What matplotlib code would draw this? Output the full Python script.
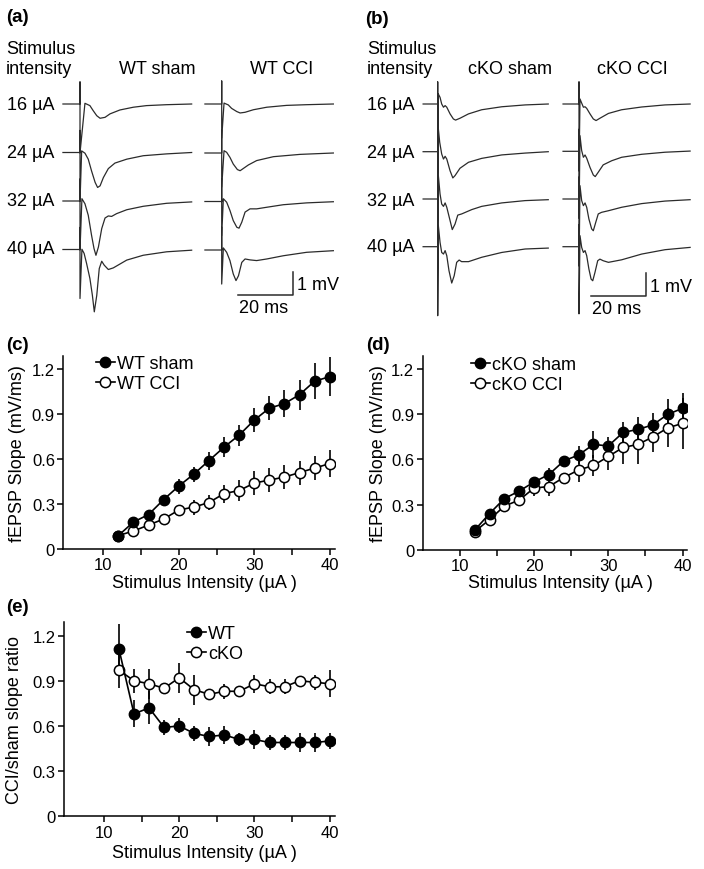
import matplotlib
matplotlib.use('Agg')
import matplotlib.pyplot as plt
from matplotlib.lines import Line2D
import numpy as np

plt.rcParams['font.family'] = ['Liberation Sans', 'DejaVu Sans']

# ---------------- data: input-output curves ----------------
INTENSITY = [12, 14, 16, 18, 20, 22, 24, 26, 28, 30, 32, 34, 36, 38, 40]

WT_SHAM = [0.09, 0.18, 0.23, 0.33, 0.42, 0.50, 0.59, 0.68, 0.76, 0.86, 0.94, 0.97, 1.03, 1.12, 1.15]
WT_SHAM_ERR = [0.01, 0.03, 0.03, 0.03, 0.05, 0.05, 0.06, 0.065, 0.07, 0.08, 0.08, 0.09, 0.10, 0.12, 0.13]
WT_CCI = [0.09, 0.12, 0.16, 0.20, 0.26, 0.28, 0.31, 0.37, 0.39, 0.44, 0.46, 0.48, 0.51, 0.54, 0.57]
WT_CCI_ERR = [0.01, 0.02, 0.02, 0.03, 0.03, 0.05, 0.05, 0.06, 0.07, 0.08, 0.08, 0.08, 0.08, 0.08, 0.09]

CKO_SHAM = [0.13, 0.24, 0.34, 0.39, 0.45, 0.50, 0.59, 0.63, 0.70, 0.69, 0.78, 0.80, 0.83, 0.90, 0.94]
CKO_SHAM_ERR = [0.01, 0.02, 0.03, 0.03, 0.03, 0.04, 0.03, 0.06, 0.09, 0.06, 0.07, 0.08, 0.08, 0.10, 0.10]
CKO_CCI = [0.12, 0.20, 0.29, 0.33, 0.41, 0.42, 0.48, 0.53, 0.56, 0.62, 0.68, 0.70, 0.75, 0.81, 0.84]
CKO_CCI_ERR = [0.01, 0.02, 0.04, 0.03, 0.05, 0.06, 0.03, 0.08, 0.07, 0.09, 0.11, 0.13, 0.10, 0.13, 0.17]

RATIO_WT = [1.11, 0.68, 0.72, 0.59, 0.60, 0.55, 0.53, 0.54, 0.51, 0.51, 0.49, 0.49, 0.49, 0.49, 0.50]
RATIO_WT_ERR = [0.17, 0.09, 0.11, 0.05, 0.05, 0.05, 0.06, 0.06, 0.04, 0.06, 0.05, 0.05, 0.06, 0.06, 0.05]
RATIO_CKO = [0.97, 0.90, 0.88, 0.85, 0.92, 0.84, 0.81, 0.83, 0.83, 0.88, 0.86, 0.86, 0.90, 0.89, 0.88]
RATIO_CKO_ERR = [0.12, 0.08, 0.10, 0.03, 0.10, 0.10, 0.03, 0.05, 0.02, 0.06, 0.05, 0.05, 0.02, 0.05, 0.09]

X_TICKS = [10, 15, 20, 25, 30, 35, 40]
X_TICK_LABELS = ['10', '', '20', '', '30', '', '40']
Y_TICKS = [0, 0.3, 0.6, 0.9, 1.2]
Y_TICK_LABELS = ['0', '0.3', '0.6', '0.9', '1.2']

# ---------------- data: example fEPSP traces (ms after stimulus, mV) ----------------
TRACE_LABELS = ['16 µA', '24 µA', '32 µA', '40 µA']

WT_SHAM_T = [
    [1.8, 3.6, 4.8, 6.1, 7.3, 9.1, 10.9, 14.5, 19.4, 24.2, 31.5, 40.6],
    [0.6, 1.8, 3.0, 4.2, 5.5, 6.4, 7.3, 8.5, 10.3, 12.7, 17.0, 23.0, 31.5, 40.6],
    [0.7, 1.8, 3.0, 4.2, 5.1, 5.8, 6.7, 7.9, 9.1, 10.3, 11.5, 13.3, 17.0, 23.0, 31.5, 40.6],
    [0.7, 1.5, 2.4, 3.6, 4.5, 5.2, 6.1, 7.0, 7.9, 8.8, 10.3, 12.1, 17.0, 23.0, 31.5, 40.6],
]
WT_SHAM_V = [
    [0.03, -0.07, -0.29, -0.51, -0.62, -0.58, -0.43, -0.26, -0.14, -0.07, -0.03, 0.0],
    [0.07, -0.03, -0.29, -0.80, -1.30, -1.52, -1.45, -1.09, -0.70, -0.46, -0.29, -0.14, -0.06, 0.0],
    [0.10, -0.12, -0.62, -1.49, -2.07, -2.36, -2.00, -1.20, -0.74, -0.65, -0.67, -0.55, -0.38, -0.23, -0.10, -0.04],
    [0.01, -0.17, -0.61, -1.26, -1.99, -2.71, -1.99, -0.83, -0.51, -0.68, -0.87, -0.80, -0.46, -0.25, -0.10, -0.03],
]
WT_CCI_T = [
    [0.85, 2.4, 3.6, 5.5, 6.7, 8.5, 11.5, 16.4, 23.6, 30.9, 40.6],
    [0.85, 1.8, 3.0, 4.2, 5.7, 6.7, 7.9, 9.7, 12.7, 18.8, 28.5, 40.6],
    [0.6, 1.8, 3.0, 4.2, 5.5, 6.3, 7.3, 8.5, 10.3, 12.7, 16.4, 22.4, 30.9, 40.6],
    [0.6, 1.8, 3.0, 4.2, 5.2, 6.1, 7.3, 8.5, 10.3, 12.7, 16.4, 22.4, 30.9, 40.6],
]
WT_CCI_V = [
    [0.04, -0.04, -0.19, -0.33, -0.39, -0.36, -0.25, -0.14, -0.06, -0.03, 0.0],
    [0.10, 0.03, -0.19, -0.48, -0.72, -0.77, -0.67, -0.52, -0.33, -0.16, -0.06, 0.0],
    [0.12, -0.03, -0.39, -0.83, -1.12, -1.16, -0.90, -0.46, -0.32, -0.32, -0.25, -0.14, -0.06, -0.01],
    [0.09, -0.10, -0.46, -1.04, -1.33, -1.12, -0.54, -0.39, -0.43, -0.46, -0.39, -0.25, -0.10, -0.03],
]
CKO_SHAM_T = [
    [0.24, 0.85, 1.45, 2.1, 2.7, 3.3, 4.5, 5.7, 6.5, 8.1, 11.2, 16.0, 23.3, 31.8, 40.2],
    [0.24, 0.73, 1.45, 2.1, 2.7, 3.3, 4.5, 5.5, 6.3, 8.1, 11.2, 16.0, 23.3, 31.8, 40.2],
    [0.24, 0.85, 1.45, 2.1, 2.7, 3.3, 4.5, 5.3, 6.3, 7.3, 8.7, 12.4, 16.0, 23.3, 31.8, 40.2],
    [0.24, 0.85, 1.45, 2.1, 2.7, 3.3, 4.1, 5.1, 6.0, 6.9, 7.8, 8.7, 11.2, 16.0, 23.3, 31.8, 40.2],
]
CKO_SHAM_V = [
    [0.43, 0.29, 0.0, -0.14, -0.07, -0.14, -0.43, -0.65, -0.70, -0.62, -0.43, -0.25, -0.12, -0.04, 0.0],
    [0.99, 0.41, -0.10, -0.32, -0.20, -0.32, -0.83, -1.14, -1.04, -0.72, -0.46, -0.29, -0.14, -0.06, 0.0],
    [1.01, 0.22, -0.22, -0.32, -0.17, -0.36, -0.94, -1.33, -1.09, -0.70, -0.65, -0.46, -0.32, -0.17, -0.07, -0.03],
    [0.91, 0.19, -0.25, -0.32, -0.17, -0.39, -1.04, -1.58, -1.26, -0.68, -0.58, -0.65, -0.65, -0.46, -0.25, -0.10, -0.06],
]
CKO_CCI_T = [
    [0.36, 0.97, 1.6, 2.2, 2.8, 4.0, 5.2, 6.2, 7.6, 10.7, 15.5, 22.8, 31.3, 40.4],
    [0.36, 0.97, 1.6, 2.2, 2.8, 4.0, 5.2, 5.9, 7.0, 8.8, 11.9, 15.5, 22.8, 31.3, 40.4],
    [0.36, 0.97, 1.6, 2.2, 2.8, 3.6, 4.6, 5.2, 6.1, 7.0, 8.2, 10.7, 15.5, 22.8, 31.3, 40.4],
    [0.36, 0.97, 1.6, 2.2, 2.8, 3.6, 4.4, 5.0, 5.8, 6.8, 7.6, 8.8, 10.7, 15.5, 22.8, 31.3, 40.4],
]
CKO_CCI_V = [
    [0.22, 0.04, -0.14, -0.12, -0.19, -0.43, -0.65, -0.72, -0.62, -0.41, -0.25, -0.13, -0.04, 0.0],
    [0.68, 0.03, -0.26, -0.16, -0.30, -0.70, -1.03, -1.10, -0.91, -0.59, -0.41, -0.26, -0.13, -0.04, 0.01],
    [0.58, -0.07, -0.29, -0.17, -0.36, -0.87, -1.30, -1.38, -1.01, -0.65, -0.58, -0.51, -0.36, -0.20, -0.09, -0.03],
    [0.48, -0.03, -0.25, -0.17, -0.39, -0.97, -1.41, -1.48, -1.12, -0.61, -0.54, -0.61, -0.68, -0.57, -0.32, -0.13, -0.03],
]
# pre-stimulus start (ms), artifact up / down (mV)
WT_SHAM_ART = (-6.2, 0.96, -2.13)
WT_CCI_ART = (-6.1, 1.0, -1.48)
CKO_SHAM_ART = (-5.3, 0.96, -3.0)
CKO_CCI_ART = (-5.8, 0.96, -2.92)

# ---------------- layout helpers ----------------
W, H = 704, 870
fig = plt.figure(figsize=(W / 100, H / 100), dpi=100)
FS = 13
FS_TICK = 12
FS_PANEL = 13.5


def rect(l, t, r, b):
    return [l / W, 1 - b / H, (r - l) / W, (b - t) / H]


def ftext(x, y, s, **kw):
    kw.setdefault('fontsize', FS)
    kw.setdefault('va', 'center')
    fig.text(x / W, 1 - y / H, s, **kw)


# ---------------- panels (a) and (b): traces ----------------
PX_PER_MS = 2.75
PX_PER_MV = 23.0
tax = fig.add_axes(rect(0, 0, W, 330))
tax.set_xlim(0, W / PX_PER_MS)
tax.set_ylim(0, 330 / PX_PER_MV)
tax.axis('off')


def ms(px):
    return px / PX_PER_MS


def mv(py):
    return (330 - py) / PX_PER_MV


TRACE_COLOR = '#2b2b2b'


def draw_group(T, V, art, x_px, base_px):
    pre, up, down = art
    for t, v, b in zip(T, V, base_px):
        tt = np.array([pre, 0, 0, 0] + list(t)) + ms(x_px)
        vv = np.array([0, 0, up, down] + list(v)) + mv(b)
        tax.plot(tt, vv, color=TRACE_COLOR, lw=0.9, solid_joinstyle='round')


draw_group(WT_SHAM_T, WT_SHAM_V, WT_SHAM_ART, 80, [105, 153.5, 202, 250.5])
draw_group(WT_CCI_T, WT_CCI_V, WT_CCI_ART, 221.7, [105, 154, 202.5, 251])
draw_group(CKO_SHAM_T, CKO_SHAM_V, CKO_SHAM_ART, 437.7, [105, 152.7, 200, 247.7])
draw_group(CKO_CCI_T, CKO_CCI_V, CKO_CCI_ART, 579, [105, 152.3, 200, 247.7])

# scale bars (20 ms, 1 mV)
for xr, yb in [(293, 296), (646, 297.3)]:
    tax.plot([ms(xr) - 20, ms(xr), ms(xr)], [mv(yb), mv(yb), mv(yb) + 1],
             color=TRACE_COLOR, lw=1.1)

ftext(6, 18, '(a)', fontweight='bold', fontsize=FS_PANEL)
ftext(365, 19, '(b)', fontweight='bold', fontsize=FS_PANEL)
for x0 in (6, 367):
    ftext(x0, 49, 'Stimulus')
    ftext(x0, 69, 'intensity')
ftext(157, 69, 'WT sham', ha='center')
ftext(282, 69, 'WT CCI', ha='center')
ftext(510, 69, 'cKO sham', ha='center')
ftext(632, 69, 'cKO CCI', ha='center')
for lab, ya, yb in zip(TRACE_LABELS, [106, 154, 202, 250], [106, 153, 201, 248]):
    ftext(7, ya, lab)
    ftext(367, yb, lab)
ftext(297, 285, '1 mV')
ftext(264, 309, '20 ms', ha='center')
ftext(650, 288, '1 mV')
ftext(617, 310, '20 ms', ha='center')


# ---------------- panels (c), (d), (e) ----------------
def style_axes(ax, xlim, ylabel, ylab_x, xlab_y):
    ax.set_xlim(*xlim)
    ax.set_ylim(0, 1.29)
    for s in ('top', 'right'):
        ax.spines[s].set_visible(False)
    for s in ('left', 'bottom'):
        ax.spines[s].set_linewidth(1.1)
    ax.set_xticks(X_TICKS)
    ax.set_xticklabels(X_TICK_LABELS)
    ax.set_yticks(Y_TICKS)
    ax.set_yticklabels(Y_TICK_LABELS)
    ax.tick_params(direction='out', length=4.5, width=1.1, labelsize=FS_TICK, pad=1.5)
    ax.set_xlabel('Stimulus Intensity (µA )', fontsize=FS)
    ax.xaxis.label.set_va('center')
    ax.xaxis.set_label_coords(0.52, xlab_y)
    ax.set_ylabel(ylabel, fontsize=FS)
    ax.yaxis.label.set_va('center')
    ax.yaxis.set_label_coords(ylab_x, 0.5)


def plot_series(ax, y, err, filled):
    ax.errorbar(INTENSITY, y, yerr=err, fmt='-o', color='black', lw=1.2,
                elinewidth=1.2, capsize=0, ms=7.4, mew=1.1,
                mfc='black' if filled else 'white', mec='black')


def add_legend(ax, labels, x_px, y_px):
    handles = [Line2D([], [], color='black', lw=1.2, marker='o', ms=7.4, mew=1.1,
                      mfc=fc, mec='black') for fc in ('black', 'white')]
    ax.legend(handles, labels, loc='upper left',
              bbox_to_anchor=(x_px / W, 1 - y_px / H), bbox_transform=fig.transFigure,
              frameon=False, fontsize=FS, handlelength=1.05, handletextpad=0.12,
              labelspacing=0.18, borderpad=0, borderaxespad=0)


axc = fig.add_axes(rect(63.3, 356.7, 335, 550))
plot_series(axc, WT_CCI, WT_CCI_ERR, False)
plot_series(axc, WT_SHAM, WT_SHAM_ERR, True)
style_axes(axc, (4.7, 40.7), 'fEPSP Slope (mV/ms)', -0.17, -0.173)
add_legend(axc, ['WT sham', 'WT CCI'], 96, 356)
ftext(6, 346, '(c)', fontweight='bold', fontsize=FS_PANEL)

axd = fig.add_axes(rect(422.7, 356.7, 687, 550.7))
plot_series(axd, CKO_CCI, CKO_CCI_ERR, False)
plot_series(axd, CKO_SHAM, CKO_SHAM_ERR, True)
style_axes(axd, (5.0, 40.6), 'fEPSP Slope (mV/ms)', -0.167, -0.171)
add_legend(axd, ['cKO sham', 'cKO CCI'], 471, 357)
ftext(366, 346, '(d)', fontweight='bold', fontsize=FS_PANEL)

axe = fig.add_axes(rect(64, 623, 335, 817.3))
plot_series(axe, RATIO_CKO, RATIO_CKO_ERR, False)
plot_series(axe, RATIO_WT, RATIO_WT_ERR, True)
style_axes(axe, (4.7, 40.7), 'CCI/sham slope ratio', -0.183, -0.188)
add_legend(axe, ['WT', 'cKO'], 187, 626)
ftext(6, 608, '(e)', fontweight='bold', fontsize=FS_PANEL)

fig.savefig('out.png', dpi=100)
